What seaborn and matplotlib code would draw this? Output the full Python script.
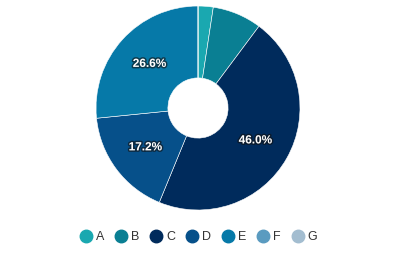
import matplotlib
matplotlib.use("Agg")
import matplotlib.pyplot as plt
import matplotlib.patheffects as pe
from matplotlib.lines import Line2D
import seaborn as sns

categories = ["A", "B", "C", "D", "E", "F", "G"]
values = [2.4, 7.8, 46.0, 17.2, 26.6, 0.0, 0.0]
colors = ["#1aa8b0", "#0a7f93", "#002b5c", "#06508a", "#0679a8", "#5a9bc0", "#a3bdd0"]

sns.set_theme(style="white")
plt.rcParams["font.family"] = ["Liberation Sans", "DejaVu Sans"]
palette = sns.color_palette(colors)

fig = plt.figure(figsize=(3.97, 2.54), dpi=100)
ax = fig.add_axes([0.2418, 0.1732, 0.5139, 0.8031])

wedges, texts, autotexts = ax.pie(
    values, colors=palette, startangle=90, counterclock=False,
    radius=1.0, wedgeprops=dict(width=0.705, edgecolor="white", linewidth=0.4),
    autopct=lambda p: f"{p:.1f}%" if p >= 10 else "", pctdistance=0.645,
    textprops=dict(color="white", fontsize=8.5, fontweight="bold"),
)
for t in autotexts:
    t.set_path_effects([pe.withStroke(linewidth=2.2, foreground="#111111", alpha=0.6)])
ax.set_xlim(-1, 1)
ax.set_ylim(-1, 1)
ax.set_aspect("equal")
ax.axis("off")

handles = [Line2D([0], [0], marker="o", linestyle="", markersize=9,
                  markerfacecolor=c, markeredgecolor=c) for c in colors]
fig.legend(handles, categories, loc="center", bbox_to_anchor=(0.5, 1 - 237 / 254),
           ncol=7, frameon=False, fontsize=9, handletextpad=0.3, columnspacing=0.85,
           handlelength=1.0, labelcolor="#333333")

fig.savefig("out.png", dpi=100)
